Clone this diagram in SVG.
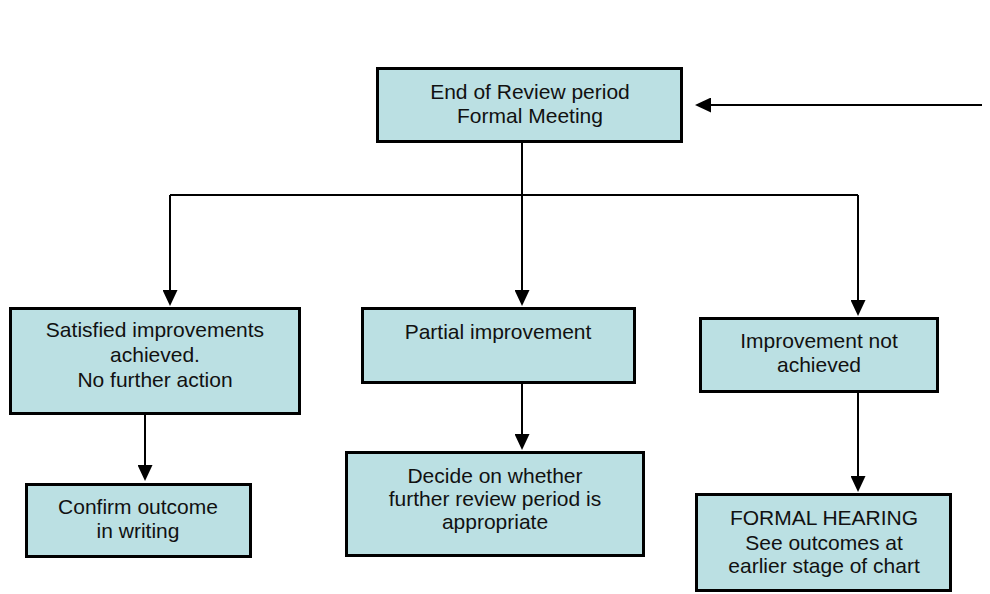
<svg xmlns="http://www.w3.org/2000/svg" width="990" height="594" viewBox="0 0 990 594">
  <style>
    .box { fill: #BBE0E3; stroke: #000; stroke-width: 3; }
    .lbl { font-family: "Liberation Sans", Arial, sans-serif; font-size: 21px; fill: #111; text-anchor: middle; }
    .wire { fill: none; stroke: #000; stroke-width: 2; }
  </style>
  <defs>
    <marker id="arrow" markerUnits="userSpaceOnUse" markerWidth="16" markerHeight="15" refX="12" refY="7.5" orient="auto">
      <path d="M0,0 L16,7.5 L0,15 Z" fill="#000"/>
    </marker>
  </defs>
  <rect width="990" height="594" fill="#fff"/>

  <g id="connectors">
    <line class="wire" x1="982" y1="105" x2="699" y2="105" marker-end="url(#arrow)"/>
    <line class="wire" x1="522" y1="143" x2="522" y2="195"/>
    <line class="wire" x1="170" y1="195" x2="858" y2="195"/>
    <line class="wire" x1="170" y1="195" x2="170" y2="302" marker-end="url(#arrow)"/>
    <line class="wire" x1="522" y1="195" x2="522" y2="302" marker-end="url(#arrow)"/>
    <line class="wire" x1="858" y1="195" x2="858" y2="312" marker-end="url(#arrow)"/>
    <line class="wire" x1="145" y1="415" x2="145" y2="477" marker-end="url(#arrow)"/>
    <line class="wire" x1="522" y1="384" x2="522" y2="446" marker-end="url(#arrow)"/>
    <line class="wire" x1="858" y1="393" x2="858" y2="488" marker-end="url(#arrow)"/>
  </g>

  <g id="review-meeting">
    <rect class="box" x="377.5" y="68.5" width="304" height="73"/>
    <text class="lbl" x="530" y="99">End of Review period</text>
    <text class="lbl" x="530" y="123">Formal Meeting</text>
  </g>

  <g id="satisfied">
    <rect class="box" x="10.5" y="308.5" width="289" height="105"/>
    <text class="lbl" x="155" y="337">Satisfied improvements</text>
    <text class="lbl" x="155" y="362">achieved.</text>
    <text class="lbl" x="155" y="387">No further action</text>
  </g>

  <g id="partial">
    <rect class="box" x="362.5" y="308.5" width="272" height="74"/>
    <text class="lbl" x="498" y="339">Partial improvement</text>
  </g>

  <g id="not-achieved">
    <rect class="box" x="700.5" y="318.5" width="237" height="73"/>
    <text class="lbl" x="819" y="348">Improvement not</text>
    <text class="lbl" x="819" y="372">achieved</text>
  </g>

  <g id="confirm">
    <rect class="box" x="26.5" y="484.5" width="224" height="72"/>
    <text class="lbl" x="138" y="514">Confirm outcome</text>
    <text class="lbl" x="138" y="538">in writing</text>
  </g>

  <g id="decide">
    <rect class="box" x="346.5" y="452.5" width="297" height="103"/>
    <text class="lbl" x="495" y="483">Decide on whether</text>
    <text class="lbl" x="495" y="506">further review period is</text>
    <text class="lbl" x="495" y="529">appropriate</text>
  </g>

  <g id="formal-hearing">
    <rect class="box" x="696.5" y="494.5" width="254" height="96"/>
    <text class="lbl" x="824" y="525">FORMAL HEARING</text>
    <text class="lbl" x="824" y="550">See outcomes at</text>
    <text class="lbl" x="824" y="573">earlier stage of chart</text>
  </g>
</svg>
